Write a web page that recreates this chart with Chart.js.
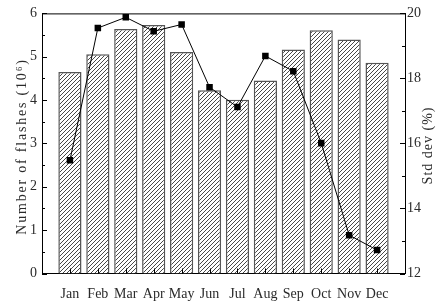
<!DOCTYPE html>
<html><head><meta charset="utf-8">
<script src="https://cdn.jsdelivr.net/npm/chart.js@4"></script>
<style>html,body{margin:0;padding:0;background:#fff}#wrap{width:443px;height:306px}</style>
</head><body><div id="wrap"><canvas id="c" width="443" height="306"></canvas></div>
<script>
const months = ['Jan','Feb','Mar','Apr','May','Jun','Jul','Aug','Sep','Oct','Nov','Dec'];
const flashes = [4.65, 5.06, 5.64, 5.73, 5.11, 4.23, 4.01, 4.45, 5.17, 5.61, 5.40, 4.86];
const stdDev = [15.48, 19.55, 19.88, 19.45, 19.66, 17.73, 17.12, 18.69, 18.22, 16.01, 13.18, 12.72];
const leftTicks = [0, 1, 2, 3, 4, 5, 6];
const rightTicks = [12, 14, 16, 18, 20];
const leftTitle = 'Number of flashes (10\u2076)';
const rightTitle = 'Std dev (%)';

const FONT = "'Liberation Serif', 'Times New Roman', serif";
const TXT = '#2a2a2a';

function hatch() {
  const s = 4;
  const c = document.createElement('canvas');
  c.width = s; c.height = s;
  const g = c.getContext('2d');
  g.fillStyle = '#fff'; g.fillRect(0, 0, s, s);
  g.strokeStyle = '#333'; g.lineWidth = 0.9;
  g.beginPath();
  g.moveTo(-1, s + 1); g.lineTo(s + 1, -1);
  g.moveTo(-1, 1); g.lineTo(1, -1);
  g.moveTo(s - 1, s + 1); g.lineTo(s + 1, s - 1);
  g.stroke();
  return g.createPattern(c, 'repeat');
}

const decor = {
  id: 'decor',
  afterDatasetsDraw(chart) {
    const ctx = chart.ctx;
    const a = chart.chartArea;
    const x = chart.scales.x, y = chart.scales.y, y1 = chart.scales.y1;
    ctx.save();
    ctx.strokeStyle = '#000';
    ctx.lineWidth = 1;
    ctx.beginPath();
    ctx.moveTo(a.left, a.top + 0.5); ctx.lineTo(a.right, a.top + 0.5);
    for (let v = 0; v <= 6; v += 0.5) {
      const p = Math.round(y.getPixelForValue(v)) + 0.5;
      const len = Number.isInteger(v) ? 5 : 3;
      ctx.moveTo(a.left, p); ctx.lineTo(a.left + len, p);
    }
    for (let v = 12; v <= 20; v += 1) {
      const p = Math.round(y1.getPixelForValue(v)) + 0.5;
      const len = v % 2 === 0 ? 5 : 3;
      ctx.moveTo(a.right, p); ctx.lineTo(a.right - len, p);
    }
    months.forEach((m, i) => {
      const p = Math.round(x.getPixelForValue(i + 1)) + 0.5;
      ctx.moveTo(p, a.bottom); ctx.lineTo(p, a.bottom - 5);
    });
    ctx.stroke();
    ctx.restore();
  },
  afterDraw(chart) {
    const ctx = chart.ctx;
    const a = chart.chartArea;
    const cy = (a.top + a.bottom) / 2;
    ctx.save();
    ctx.fillStyle = TXT;
    ctx.font = "14px " + FONT;
    ctx.textAlign = 'center';
    ctx.textBaseline = 'middle';
    ctx.letterSpacing = '1.8px';
    ctx.translate(22, cy + 3);
    ctx.rotate(-Math.PI / 2);
    ctx.fillText(leftTitle, 0, 0);
    ctx.restore();
    ctx.save();
    ctx.fillStyle = TXT;
    ctx.font = "14px " + FONT;
    ctx.textAlign = 'center';
    ctx.textBaseline = 'middle';
    ctx.letterSpacing = '1px';
    ctx.translate(428, cy + 2);
    ctx.rotate(-Math.PI / 2);
    ctx.fillText(rightTitle, 0, 0);
    ctx.restore();
  }
};

new Chart(document.getElementById('c'), {
  type: 'bar',
  data: {
    datasets: [
      {
        type: 'line',
        data: stdDev.map((v, i) => ({ x: i + 1, y: v })),
        yAxisID: 'y1',
        borderColor: '#000',
        borderWidth: 1,
        backgroundColor: '#000',
        pointStyle: 'rect',
        pointRadius: 4.6,
        pointBorderWidth: 0,
        tension: 0,
        order: 0
      },
      {
        type: 'bar',
        data: flashes.map((v, i) => ({ x: i + 1, y: v })),
        yAxisID: 'y',
        backgroundColor: hatch(),
        borderColor: '#555',
        borderWidth: 1.5,
        barPercentage: 0.83,
        categoryPercentage: 1,
        order: 1
      }
    ]
  },
  options: {
    responsive: false,
    animation: false,
    devicePixelRatio: 1,
    layout: { padding: { top: 12, left: 0, right: 0, bottom: 0 } },
    plugins: { legend: { display: false }, tooltip: { enabled: false } },
    scales: {
      x: {
        type: 'linear',
        min: 0, max: 13,
        offset: false,
        grid: { display: false, drawTicks: false },
        border: { display: true, color: '#000', width: 1 },
        ticks: {
          stepSize: 1,
          autoSkip: false,
          maxRotation: 0,
          padding: 12,
          color: TXT,
          font: { family: FONT, size: 14 },
          callback: (v) => (v >= 1 && v <= 12 ? months[v - 1] : '')
        },
        afterFit: (s) => { s.height = 32.5; }
      },
      y: {
        position: 'left',
        min: 0, max: 6,
        grid: { display: false, drawTicks: false },
        border: { display: true, color: '#000', width: 1 },
        afterBuildTicks: (s) => { s.ticks = leftTicks.map(v => ({ value: v })); },
        ticks: {
          padding: 5,
          color: TXT,
          font: { family: FONT, size: 14 }
        },
        afterFit: (s) => { s.width = 42; }
      },
      y1: {
        position: 'right',
        min: 12, max: 20,
        grid: { display: false, drawTicks: false },
        border: { display: true, color: '#000', width: 1 },
        afterBuildTicks: (s) => { s.ticks = rightTicks.map(v => ({ value: v })); },
        ticks: {
          padding: 2,
          color: TXT,
          font: { family: FONT, size: 14 }
        },
        afterFit: (s) => { s.width = 38; }
      }
    }
  },
  plugins: [decor]
});
</script>
</body></html>
